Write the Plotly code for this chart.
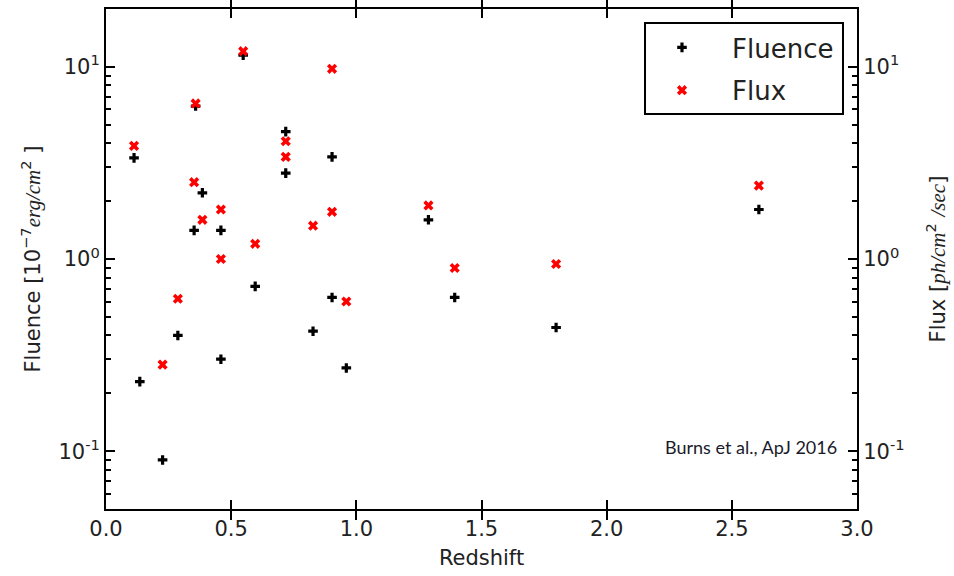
import plotly.graph_objects as go
import math

# Data
fluence_z = [0.112, 0.135, 0.226, 0.287, 0.352, 0.358, 0.385, 0.459, 0.459, 0.548,
             0.596, 0.718, 0.718, 0.827, 0.903, 0.903, 0.960, 1.288, 1.393, 1.798, 2.608]
fluence_v = [3.36, 0.230, 0.090, 0.400, 1.41, 6.25, 2.21, 1.41, 0.301, 11.49,
             0.720, 4.60, 2.80, 0.421, 3.40, 0.631, 0.271, 1.60, 0.631, 0.440, 1.81]

flux_z = [0.112, 0.226, 0.287, 0.352, 0.358, 0.385, 0.459, 0.459, 0.548, 0.596,
          0.718, 0.718, 0.827, 0.903, 0.903, 0.960, 1.288, 1.393, 1.798, 2.608]
flux_v = [3.88, 0.282, 0.621, 2.51, 6.45, 1.60, 1.81, 1.00, 12.06, 1.20,
          4.10, 3.40, 1.49, 9.77, 1.76, 0.601, 1.90, 0.898, 0.942, 2.41]

x_ticks = [0.0, 0.5, 1.0, 1.5, 2.0, 2.5, 3.0]
y_tickvals = [0.1, 1, 10]
y_ticktext = ["10<sup>-1</sup>", "10<sup>0</sup>", "10<sup>1</sup>"]
y_range = [0.05, 20]
x_range = [0, 3]

FONT = "DejaVu Sans"
MATH = "font-family:'Liberation Serif';font-style:italic"

# minor tick positions (2..9 in each decade) inside the axis range
minor_vals = [m * 10.0 ** e for e in (-2, -1, 0, 1) for m in range(2, 10)
              if y_range[0] <= m * 10.0 ** e <= y_range[1]]

fig = go.Figure()
fig.add_trace(go.Scatter(
    x=fluence_z, y=fluence_v, mode="markers", name="Fluence",
    marker=dict(symbol="cross", size=8, color="black", line=dict(width=0)),
    yaxis="y", legendgroup="a"))
fig.add_trace(go.Scatter(
    x=flux_z, y=flux_v, mode="markers", name="Flux",
    marker=dict(symbol="x", size=9, color="red", line=dict(width=0)),
    yaxis="y2", legendgroup="b"))

yr = [math.log10(y_range[0]), math.log10(y_range[1])]
common_y = dict(
    type="log", range=yr, tickmode="array", tickvals=y_tickvals, ticktext=y_ticktext,
    ticks="inside", ticklen=9, tickwidth=2, tickcolor="#000000",
    minor=dict(ticks="inside", ticklen=5, tickwidth=1.5, tickcolor="#000000",
               tickmode="array", tickvals=minor_vals, showgrid=False),
    showline=True, linecolor="black", linewidth=2, showgrid=False, zeroline=False,
    tickfont=dict(family=FONT, size=21, color="#222"),
)

left_title = ("Fluence [10<sup>−7</sup>"
              f"<span style=\"{MATH}\">erg/cm</span><sup>2</sup> ]")
right_title = (f"Flux [<span style=\"{MATH}\">ph/cm</span><sup>2</sup> "
               f"<span style=\"{MATH}\">/sec</span>]")

fig.update_layout(
    width=954, height=576,
    margin=dict(l=106, r=97, t=9, b=67, autoexpand=False),
    paper_bgcolor="white", plot_bgcolor="rgba(0,0,0,0)",
    font=dict(family=FONT, color="#222"),
    showlegend=True,
    xaxis=dict(
        range=x_range, tickmode="array", tickvals=x_ticks,
        ticktext=[f"{v:.1f}" for v in x_ticks],
        ticks="inside", ticklen=9, tickwidth=2, tickcolor="#000000",
        showline=True, linecolor="black", linewidth=2, mirror="allticks",
        showgrid=False, zeroline=False, layer="above traces",
        tickfont=dict(family=FONT, size=21, color="#222"),
        title=dict(text="Redshift", font=dict(family=FONT, size=21, color="#222"), standoff=10),
    ),
    yaxis=dict(common_y, side="left", layer="above traces",
               title=dict(text=left_title, font=dict(family=FONT, size=21, color="#222"), standoff=12)),
    yaxis2=dict(common_y, side="right", overlaying="y", layer="above traces",
                title=dict(text=right_title, font=dict(family=FONT, size=21, color="#222"), standoff=27)),
    legend=dict(
        x=(632 - 106) / 751, y=1 - (24 - 9) / 500, xanchor="left", yanchor="top",
        bgcolor="rgba(0,0,0,0)", borderwidth=0, itemwidth=90,
        font=dict(family=FONT, size=26, color="#222"),
        traceorder="grouped", tracegroupgap=6,
    ),
    shapes=[dict(type="rect", xref="paper", yref="paper",
                 x0=(645 - 106) / 751, x1=(843 - 106) / 751,
                 y0=1 - (114 - 9) / 500, y1=1 - (23 - 9) / 500,
                 line=dict(color="black", width=2), fillcolor="rgba(0,0,0,0)")],
    annotations=[dict(text="Burns et al., ApJ 2016", xref="paper", yref="paper",
                      x=(751 - 106) / 751, y=1 - (447 - 9) / 500, showarrow=False,
                      xanchor="center", yanchor="middle",
                      font=dict(family="Lato", size=18, color="#1a1a2a"))],
)

fig.write_html("out.html")
